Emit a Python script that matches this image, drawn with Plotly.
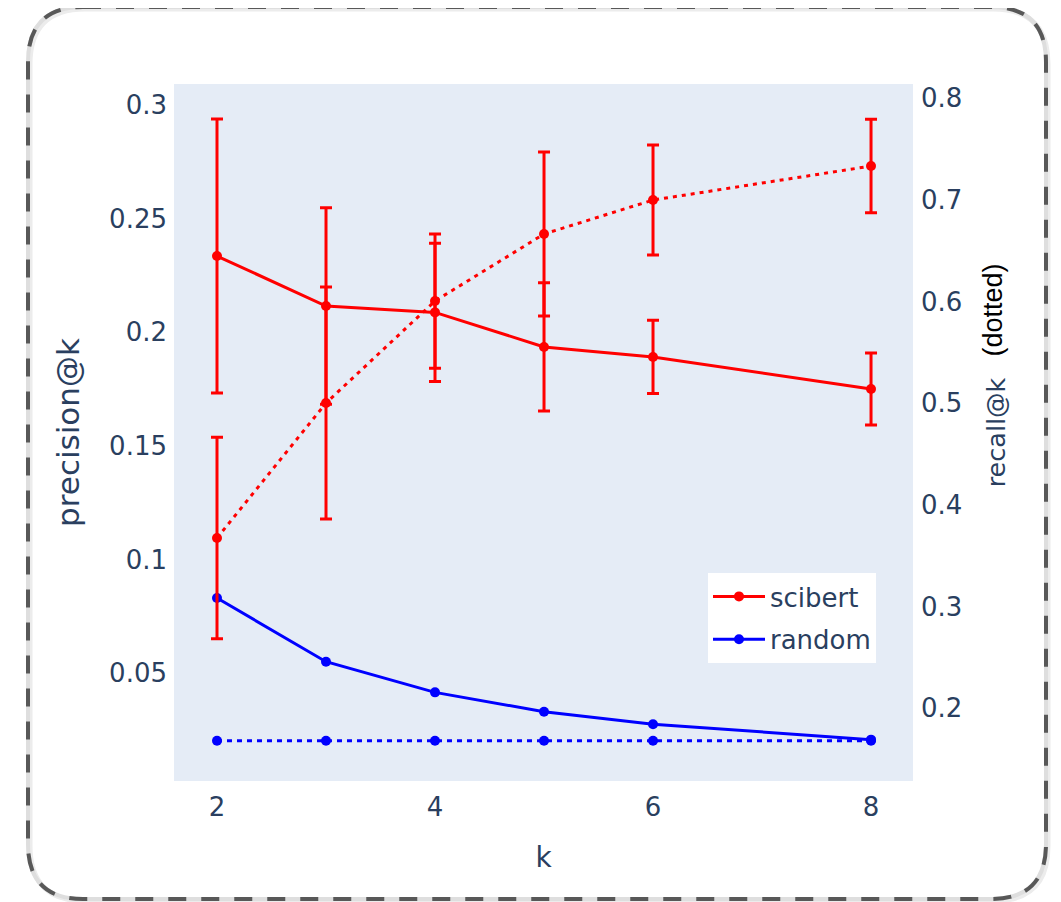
import plotly.graph_objects as go

# ---- data ----
k = [2, 3, 4, 5, 6, 8]
scibert_precision = [0.2335, 0.2115, 0.2087, 0.1935, 0.1891, 0.1750]
scibert_precision_err = [0.0603, 0.0432, 0.0304, 0.0282, 0.0161, 0.0158]
scibert_recall = [0.3674, 0.5001, 0.6004, 0.6663, 0.6997, 0.7331]
scibert_recall_err = [0.0990, 0.1140, 0.0660, 0.0806, 0.0540, 0.0460]
random_precision = [0.0830, 0.0550, 0.0415, 0.0330, 0.0275, 0.0207]
random_recall = [0.1680, 0.1680, 0.1680, 0.1680, 0.1680, 0.1680]

# the page body has an 8px margin, so the figure is drawn 8px in from the corner
OFF = 8
W, H = 1061 - OFF, 902 - OFF
L, R, T, B = 174, 913, 84, 781  # plot area in screen pixels

TICK_FONT = dict(family="DejaVu Sans", size=26, color="#2a3f5f")

fig = go.Figure()
fig.add_trace(go.Scatter(
    x=k, y=scibert_precision, name="scibert", mode="lines+markers", legendgroup="a",
    line=dict(color="red", width=3), marker=dict(size=10, color="red"),
    error_y=dict(type="data", array=scibert_precision_err, color="red", thickness=3, width=6),
))
fig.add_trace(go.Scatter(
    x=k, y=scibert_recall, name="scibert recall", mode="lines+markers", yaxis="y2",
    showlegend=False, legendgroup="a",
    line=dict(color="red", width=3, dash="4px,5px"), marker=dict(size=10, color="red"),
    error_y=dict(type="data", array=scibert_recall_err, color="red", thickness=3, width=6),
))
fig.add_trace(go.Scatter(
    x=k, y=random_precision, name="random", mode="lines+markers", legendgroup="b",
    line=dict(color="blue", width=3), marker=dict(size=10, color="blue"),
))
fig.add_trace(go.Scatter(
    x=k, y=random_recall, name="random recall", mode="lines+markers", yaxis="y2",
    showlegend=False, legendgroup="b",
    line=dict(color="blue", width=3, dash="5px,5px"), marker=dict(size=10, color="blue"),
))

def px(X):
    return (X - L) / (R - L)

def py(Y):
    return (B - Y) / (B - T)

# rounded dashed border
bl, br, bt, bb, rad = 28, 1046, 7, 899, 55
def border_path(dx=0, dy=0):
    l, r, t, b = bl + dx, br + dx, bt + dy, bb + dy
    pts = [
        f"M {px(l + rad)} {py(t)}",
        f"L {px(r - rad)} {py(t)}",
        f"Q {px(r)} {py(t)} {px(r)} {py(t + rad)}",
        f"L {px(r)} {py(b - rad)}",
        f"Q {px(r)} {py(b)} {px(r - rad)} {py(b)}",
        f"L {px(l + rad)} {py(b)}",
        f"Q {px(l)} {py(b)} {px(l)} {py(b - rad)}",
        f"L {px(l)} {py(t + rad)}",
        f"Q {px(l)} {py(t)} {px(l + rad)} {py(t)} Z",
    ]
    return " ".join(pts)

shapes = [
    dict(type="path", xref="paper", yref="paper", path=border_path(2, 2),
         line=dict(color="#ececec", width=5), layer="below"),
    dict(type="path", xref="paper", yref="paper", path=border_path(),
         line=dict(color="#dedede", width=4), layer="below"),
    dict(type="path", xref="paper", yref="paper", path=border_path(),
         line=dict(color="#585858", width=4, dash="18px,15px"), layer="below"),
]

fig.update_layout(
    width=W, height=H, autosize=False,
    margin=dict(l=L - OFF, r=W - (R - OFF), t=T - OFF, b=H - (B - OFF), pad=0),
    paper_bgcolor="white", plot_bgcolor="#E5ECF6",
    font=dict(family="DejaVu Sans", size=26, color="#2a3f5f"),
    xaxis=dict(range=[1.6055, 8.385], dtick=2, tick0=2, showgrid=False, zeroline=False,
               tickfont=TICK_FONT, ticklabelstandoff=8,
               title=dict(text="k", font=dict(family="DejaVu Sans", size=28, color="#2a3f5f"),
                          standoff=26),
               ticks="", showline=False),
    yaxis=dict(range=[0.0025, 0.3092], dtick=0.05, tick0=0, showgrid=False, zeroline=False,
               tickfont=TICK_FONT, ticklabelstandoff=6,
               title=dict(text="precision@k",
                          font=dict(family="DejaVu Sans", size=31, color="#2a3f5f"),
                          standoff=20),
               ticks=""),
    yaxis2=dict(range=[0.1284, 0.8138], dtick=0.1, tick0=0, showgrid=False, zeroline=False,
                overlaying="y", side="right", ticklabelstandoff=7,
                tickfont=TICK_FONT,
                title=dict(text="recall@k",
                           font=dict(family="DejaVu Sans", size=25.5, color="#2a3f5f"),
                           standoff=25),
                ticks=""),
    legend=dict(x=px(708), y=py(573), xanchor="left", yanchor="top",
                bgcolor="white", itemwidth=52, traceorder="grouped", tracegroupgap=6,
                font=dict(family="DejaVu Sans", size=26, color="#2a3f5f")),
    shapes=shapes,
    annotations=[dict(text="(dotted)", xref="paper", yref="paper", x=px(1009), y=py(262),
                      showarrow=False, textangle=-90,
                      font=dict(family="Liberation Sans", size=27, color="black"))],
)

fig.write_html("out.html")
